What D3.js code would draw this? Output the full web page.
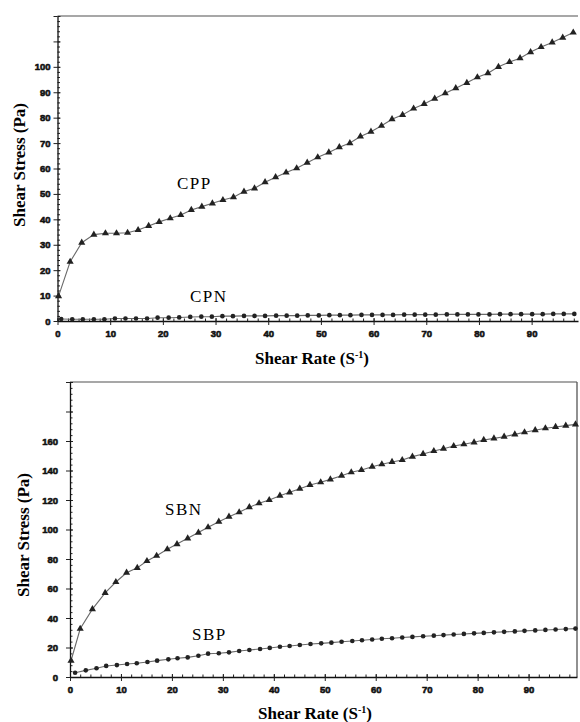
<!DOCTYPE html>
<html>
<head>
<meta charset="utf-8">
<script src="https://cdn.jsdelivr.net/npm/d3@7/dist/d3.min.js"></script>
<style>
  body { margin: 0; background: #fff; }
  .tick text { font-family: "Liberation Sans", Arial, sans-serif; font-weight: 900; font-size: 9.5px; fill: #111; stroke: #111; stroke-width: 0.6px; }
  .axis-title { font-family: "Liberation Serif", "Times New Roman", serif; font-weight: bold; font-size: 17px; fill: #000; }
  .series-label { font-family: "Liberation Serif", "Times New Roman", serif; font-size: 17px; fill: #000; letter-spacing: 1.5px; }
</style>
</head>
<body>
<svg id="chart" width="580" height="722"></svg>
<script>

////////// DATA //////////

// top panel: CPP (triangles) and CPN (circles)
const cppRate = [0.2, 2.4, 4.6, 6.9, 9.1, 11.2, 13.3, 15.3, 17.3, 19.3, 21.4, 23.4, 25.4, 27.4, 29.4,
  31.4, 33.4, 35.4, 37.4, 39.4, 41.4, 43.4, 45.4, 47.4, 49.4, 51.5, 53.5, 55.5, 57.5, 59.5,
  61.5, 63.5, 65.5, 67.6, 69.6, 71.6, 73.6, 75.6, 77.7, 79.7, 81.7, 83.7, 85.8, 87.8, 89.8,
  91.8, 93.9, 95.9, 97.9];
const cppStress = [9.8, 23.3, 30.8, 34.0, 34.5, 34.5, 34.7, 35.8, 37.4, 39.0, 40.4, 41.7, 43.7, 45.0, 46.3,
  47.6, 48.7, 50.9, 52.2, 54.6, 56.6, 58.4, 60.1, 62.3, 64.4, 66.3, 68.4, 70.0, 72.6, 74.5,
  76.8, 79.4, 81.1, 83.6, 85.4, 87.5, 89.6, 91.6, 93.7, 95.9, 97.5, 100.0, 101.9, 103.4, 105.8,
  107.8, 109.6, 111.5, 113.5];

const cpnRate = [0.7, 2.8, 4.8, 6.9, 8.9, 10.9, 12.9, 14.9, 17.0, 19.0, 21.1, 23.1, 25.2, 27.3, 29.3,
  31.3, 33.3, 35.4, 37.4, 39.4, 41.5, 43.5, 45.5, 47.5, 49.6, 51.6, 53.6, 55.6, 57.7, 59.7,
  61.7, 63.7, 65.8, 67.8, 69.8, 71.8, 73.9, 75.9, 77.9, 79.9, 82.0, 84.0, 86.0, 88.0, 90.1,
  92.1, 94.1, 96.1, 98.1];
const cpnStress = [0.8, 0.7, 0.7, 0.7, 0.7, 1.0, 1.0, 1.0, 1.0, 1.3, 1.3, 1.4, 1.6, 1.7, 1.7,
  1.9, 1.9, 2.0, 2.0, 2.0, 2.1, 2.1, 2.1, 2.2, 2.2, 2.3, 2.3, 2.3, 2.4, 2.4,
  2.4, 2.4, 2.5, 2.5, 2.5, 2.5, 2.6, 2.6, 2.6, 2.6, 2.6, 2.7, 2.7, 2.7, 2.7,
  2.7, 2.8, 2.8, 2.8];

// bottom panel: SBN (triangles) and SBP (circles)
const sbnRate = [0.2, 2.0, 4.4, 6.9, 9.0, 11.1, 13.2, 15.1, 17.0, 19.1, 21.0, 23.1, 25.2, 27.1, 29.2,
  31.2, 33.2, 35.2, 37.1, 39.1, 41.2, 43.1, 45.1, 47.1, 49.2, 51.1, 53.3, 55.2, 57.2, 59.3,
  61.2, 63.2, 65.2, 67.2, 69.3, 71.4, 73.3, 75.3, 77.3, 79.3, 81.2, 83.2, 85.2, 87.3, 89.2,
  91.3, 93.3, 95.3, 97.3, 99.2];
const sbnStress = [11, 32.7, 46, 57, 64.4, 70.7, 74, 78.6, 82.2, 86.6, 90.1, 94, 97.9, 101.5, 105.3,
  108.7, 111.7, 115.1, 117.8, 120, 122.9, 125.2, 127.7, 130.2, 132, 134, 136.5, 138.8, 140.3, 142.6,
  144.2, 145.8, 147.1, 149.4, 151.2, 153.2, 154.8, 156.6, 157.8, 159.1, 160.7, 161.8, 162.9, 164.5, 165.9,
  167.3, 168.6, 169.5, 170.4, 171.3];

const sbpRate = [1.0, 3.1, 5.2, 7.1, 9.2, 11.2, 13.1, 15.2, 17.1, 19.3, 21.1, 23.1, 25.2, 27.1, 29.2,
  31.2, 33.2, 35.2, 37.3, 39.2, 41.2, 43.1, 45.1, 47.2, 49.3, 51.3, 53.3, 55.4, 57.3, 59.3,
  61.2, 63.2, 65.2, 67.2, 69.3, 71.4, 73.3, 75.3, 77.3, 79.3, 81.2, 83.2, 85.2, 87.3, 89.2,
  91.3, 93.3, 95.3, 97.3, 99.2];
const sbpStress = [2.9, 4.5, 5.9, 7.5, 8.1, 8.8, 9.3, 10.2, 11.1, 12.0, 12.7, 13.3, 14.4, 15.8, 16.1,
  16.7, 17.6, 18.3, 19.0, 19.7, 20.5, 21.0, 21.7, 22.4, 22.8, 23.3, 23.9, 24.4, 24.9, 25.4,
  25.9, 26.3, 26.8, 27.2, 27.6, 28.0, 28.4, 28.8, 29.2, 29.6, 29.9, 30.3, 30.6, 30.9, 31.3,
  31.6, 31.9, 32.2, 32.5, 32.8];

const xTicks = [0, 10, 20, 30, 40, 50, 60, 70, 80, 90];
const topYTicks = [0, 10, 20, 30, 40, 50, 60, 70, 80, 90, 100, 110, 120];
const topYLabelMax = 100;
const bottomYTicks = [0, 20, 40, 60, 80, 100, 120, 140, 160, 180, 200];
const bottomYLabelMax = 160;


////////// SETUP //////////

const svg = d3.select("#chart");

const zip = (xs, ys) => xs.map((v, i) => ({ x: v, y: ys[i] }));

function drawPanel(cfg) {
  let x = d3.scaleLinear().domain(cfg.xDomain).range([cfg.left, cfg.right]);
  let y = d3.scaleLinear().domain(cfg.yDomain).range([cfg.bottom, cfg.top]);

  let g = svg.append("g");

  // frame (top line, optional right line)
  g.append("line")
    .attr("x1", cfg.left).attr("x2", cfg.right)
    .attr("y1", cfg.top).attr("y2", cfg.top)
    .attr("stroke", "#8a8a8a").attr("stroke-width", 1.6);
  if (cfg.rightBorder) {
    g.append("line")
      .attr("x1", cfg.right).attr("x2", cfg.right)
      .attr("y1", cfg.top).attr("y2", cfg.bottom)
      .attr("stroke", "#555").attr("stroke-width", 1.3);
  }

  // minor ticks
  let xMinor = d3.range(cfg.xDomain[0], cfg.xDomain[1], 2);
  g.append("g")
    .attr("transform", "translate(0," + cfg.bottom + ")")
    .call(d3.axisBottom(x).tickValues(xMinor).tickSize(-2.5).tickFormat(""))
    .call(a => a.select(".domain").remove());
  let yMinor = d3.range(cfg.yDomain[0], cfg.yDomain[1], cfg.yMinorStep);
  g.append("g")
    .attr("transform", "translate(" + cfg.left + ",0)")
    .call(d3.axisLeft(y).tickValues(yMinor).tickSize(-2.5).tickFormat(""))
    .call(a => a.select(".domain").remove());

  // major ticks, inner part
  g.append("g")
    .attr("transform", "translate(0," + cfg.bottom + ")")
    .call(d3.axisBottom(x).tickValues(xTicks).tickSize(-3).tickFormat(""))
    .call(a => a.select(".domain").remove());
  g.append("g")
    .attr("transform", "translate(" + cfg.left + ",0)")
    .call(d3.axisLeft(y).tickValues(cfg.yTicks).tickSize(-3).tickFormat(""))
    .call(a => a.select(".domain").remove());

  // x axis
  let xAxis = g.append("g")
    .attr("transform", "translate(0," + cfg.bottom + ")")
    .call(d3.axisBottom(x).tickValues(xTicks).tickSize(4).tickPadding(5).tickSizeOuter(0));
  xAxis.select(".domain").attr("stroke", "#111").attr("stroke-width", 1.3);

  // y axis
  let yAxis = g.append("g")
    .attr("transform", "translate(" + cfg.left + ",0)")
    .call(d3.axisLeft(y).tickValues(cfg.yTicks).tickSize(4).tickPadding(cfg.yPad).tickSizeOuter(0)
      .tickFormat(d => d <= cfg.yLabelMax ? d : ""));
  yAxis.select(".domain").attr("stroke", "#111").attr("stroke-width", 1.3);

  g.selectAll(".tick line").attr("stroke", "#222");

  // series
  let line = d3.line().x(d => x(d.x)).y(d => y(d.y));

  cfg.series.forEach(s => {
    g.append("path")
      .datum(s.data)
      .attr("d", line)
      .attr("fill", "none")
      .attr("stroke", "#6a6a6a")
      .attr("stroke-width", 1.1);

    let sym = d3.symbol().type(s.shape === "triangle" ? d3.symbolTriangle : d3.symbolCircle)
      .size(s.shape === "triangle" ? 22 : 17);

    g.append("g")
      .selectAll("path")
      .data(s.data)
      .enter()
      .append("path")
      .attr("d", sym)
      .attr("transform", d => "translate(" + x(d.x) + "," + y(d.y) + ")")
      .attr("fill", "#222");

    g.append("text")
      .attr("class", "series-label")
      .attr("x", s.labelX)
      .attr("y", s.labelY)
      .text(s.name);
  });

  // axis titles
  let xt = g.append("text")
    .attr("class", "axis-title")
    .attr("x", cfg.xTitleX)
    .attr("y", cfg.xTitleY)
    .attr("text-anchor", "middle");
  xt.append("tspan").text("Shear Rate (S");
  xt.append("tspan").attr("font-size", "10px").attr("dy", -6).text("-1");
  xt.append("tspan").attr("dy", 6).text(")");

  g.append("text")
    .attr("class", "axis-title")
    .attr("transform", "translate(" + cfg.yTitleX + "," + cfg.yTitleY + ") rotate(-90)")
    .attr("text-anchor", "middle")
    .text("Shear Stress (Pa)");
}


////////// PANELS //////////

drawPanel({
  left: 57.5, right: 578, top: 16, bottom: 321,
  xDomain: [0, 98.8], yDomain: [0, 120],
  yTicks: topYTicks, yLabelMax: topYLabelMax, yMinorStep: 2, yPad: 3,
  rightBorder: false,
  xTitleX: 312, xTitleY: 364, yTitleX: 25, yTitleY: 165,
  series: [
    { name: "CPP", shape: "triangle", data: zip(cppRate, cppStress), labelX: 177, labelY: 189 },
    { name: "CPN", shape: "circle", data: zip(cpnRate, cpnStress), labelX: 190, labelY: 302 }
  ]
});

drawPanel({
  left: 70, right: 577, top: 382, bottom: 677,
  xDomain: [0, 99.5], yDomain: [0, 200],
  yTicks: bottomYTicks, yLabelMax: bottomYLabelMax, yMinorStep: 4, yPad: 8,
  rightBorder: true,
  xTitleX: 315, xTitleY: 719, yTitleX: 29, yTitleY: 535,
  series: [
    { name: "SBN", shape: "triangle", data: zip(sbnRate, sbnStress), labelX: 165, labelY: 515 },
    { name: "SBP", shape: "circle", data: zip(sbpRate, sbpStress), labelX: 192, labelY: 640 }
  ]
});

</script>
</body>
</html>
